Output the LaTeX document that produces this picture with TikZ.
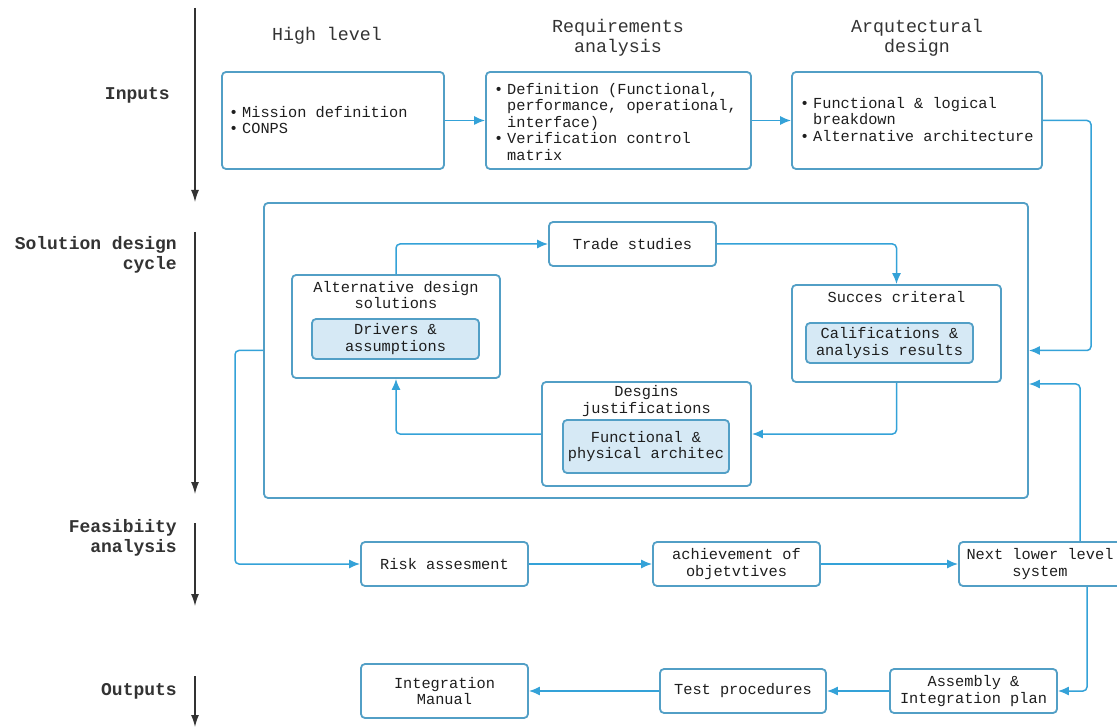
\documentclass[tikz,border=0pt]{standalone}
\usepackage{fontspec}
\setmonofont{Liberation Mono}
\usetikzlibrary{arrows.meta}
\definecolor{boxc}{HTML}{529FC6}
\definecolor{arrc}{HTML}{34A2D8}
\definecolor{fillc}{HTML}{D6E9F5}
\definecolor{axc}{HTML}{333333}
\definecolor{txtc}{HTML}{1E1E1E}
\newcommand\bul{\makebox[13pt][l]{\raisebox{0pt}{•}}}
\newcommand\ind{\hspace*{13pt}}
\tikzset{
 box/.style={draw=boxc, line width=1.8pt, rounded corners=4pt, fill=white, inner sep=0pt},
 inbox/.style={box, fill=fillc},
 conn/.style={draw=arrc, line width=1.5pt, rounded corners=4pt},
 arr/.style={conn, -{Latex[length=11pt,width=9pt]}},
 axis/.style={draw=axc, line width=1.3pt, -{Latex[length=12pt,width=8pt]}},
 txt/.style={font=\fontsize{15.3}{16.5}\selectfont\ttfamily, text=txtc, align=center, inner sep=0pt},
 ltxt/.style={txt, align=left, anchor=west},
 head/.style={font=\fontsize{18.3}{20.5}\selectfont\ttfamily, text=axc, align=center, inner sep=0pt},
 lab/.style={font=\fontsize{18}{20}\selectfont\ttfamily\bfseries, text=axc, align=right, inner sep=0pt, anchor=east},
}
\begin{document}
\begin{tikzpicture}[x=1pt,y=-1pt]
\useasboundingbox (0,0) rectangle (1117,727);
\clip (0,0) rectangle (1117,727);
\fill[white] (0,0) rectangle (1117,727);

% headers
\node[head] (h1) at (327,36) {High level};
\node[head] (h2) at (618,38) {Requirements\\analysis};
\node[head] (h3) at (917,38) {Arqutectural\\design};

% left labels
\node[lab] (l1) at (170,95) {Inputs};
\node[lab] (l2) at (177,255) {Solution design\\cycle};
\node[lab] (l3) at (177,538) {Feasibiity\\analysis};
\node[lab] (l4) at (177,691) {Outputs};

% axis arrows
\coordinate (a1s) at (195,8);   \coordinate (a1e) at (195,202);
\coordinate (a2s) at (195,232); \coordinate (a2e) at (195,494);
\coordinate (a3s) at (195,523); \coordinate (a3e) at (195,606);
\coordinate (a4s) at (195,676); \coordinate (a4e) at (195,727);
\draw[axis] (a1s) -- (a1e);
\draw[axis] (a2s) -- (a2e);
\draw[axis] (a3s) -- (a3e);
\draw[axis] (a4s) -- (a4e);

% row 1
\node[box, minimum width=222pt, minimum height=97pt] (A) at (333,120.5) {};
\node[box, minimum width=265pt, minimum height=97pt] (B) at (618.5,120.5) {};
\node[box, minimum width=250pt, minimum height=97pt] (C) at (917,120.5) {};
\node[ltxt] (At) at (229,120) {\bul Mission definition\\\bul CONPS};
\node[ltxt] (Bt) at (494,122) {\bul Definition (Functional,\\\ind performance, operational,\\\ind interface)\\\bul Verification control\\\ind matrix};
\node[ltxt] (Ct) at (800,119.5) {\bul Functional \& logical\\\ind breakdown\\\bul Alternative architecture};

% solution design cycle
\node[box, minimum width=764pt, minimum height=295pt] (outer) at (646,350.5) {};
\node[box, minimum width=167pt, minimum height=44pt, txt] (trade) at (632.5,244) {Trade studies};
\node[box, minimum width=208pt, minimum height=103pt] (alt) at (396,326.5) {};
\node[txt] (altt) at (396,295) {Alternative design\\solutions};
\node[inbox, minimum width=167pt, minimum height=40pt, txt] (drv) at (395.5,339) {Drivers \&\\assumptions};
\node[box, minimum width=209pt, minimum height=104pt] (des) at (646.5,434) {};
\node[txt] (dest) at (646.5,401) {Desgins\\justifications};
\node[inbox, minimum width=166pt, minimum height=53pt, txt] (fun) at (646,446.5) {Functional \&\\physical architec};
\node[box, minimum width=209pt, minimum height=97pt] (suc) at (896.5,333.5) {};
\node[txt] (suct) at (896.5,297) {Succes criteral};
\node[inbox, minimum width=167pt, minimum height=40pt, txt] (cal) at (889.5,343) {Califications \&\\analysis results};

% feasibility
\node[box, minimum width=167pt, minimum height=44pt, txt] (risk) at (444.5,564) {Risk assesment};
\node[box, minimum width=167pt, minimum height=44pt, txt] (ach) at (736.5,564) {achievement of\\objetvtives};
\node[box, minimum width=162pt, minimum height=44pt, txt] (next) at (1040,564) {Next lower level\\system};

% outputs
\node[box, minimum width=167pt, minimum height=54pt, txt] (integ) at (444.5,691) {Integration\\Manual};
\node[box, minimum width=166pt, minimum height=44pt, txt] (test) at (743,691) {Test procedures};
\node[box, minimum width=167pt, minimum height=44pt, txt] (asm) at (973.5,691) {Assembly \&\\Integration plan};

% connectors
\draw[arr] (A) -- (B);
\draw[arr] (B) -- (C);
\coordinate (k0) at (1091,0);
\draw[arr] (C.east) -- (C.east -| k0) -- (k0 |- outer.east) -- (outer.east);
\coordinate (k1) at (1080,384);
\draw[arr] ([xshift=40pt]next.north) -- (k1) -- (outer.east |- k1);
\coordinate (k2) at (235,0);
\draw[arr] (outer.west) -- (outer.west -| k2) -- (k2 |- risk.west) -- (risk.west);
\draw[arr] (alt.north) |- (trade.west);
\draw[arr] (trade.east) -| (suc.north);
\draw[arr] (suc.south) |- (des.east);
\draw[arr] (des.west) -| (alt.south);
\draw[arr] (risk) -- (ach);
\draw[arr] (ach) -- (next);
\draw[arr] ([xshift=47pt]next.south) |- (asm.east);
\draw[arr] (asm) -- (test);
\draw[arr] (test) -- (integ);
\end{tikzpicture}
\end{document}
